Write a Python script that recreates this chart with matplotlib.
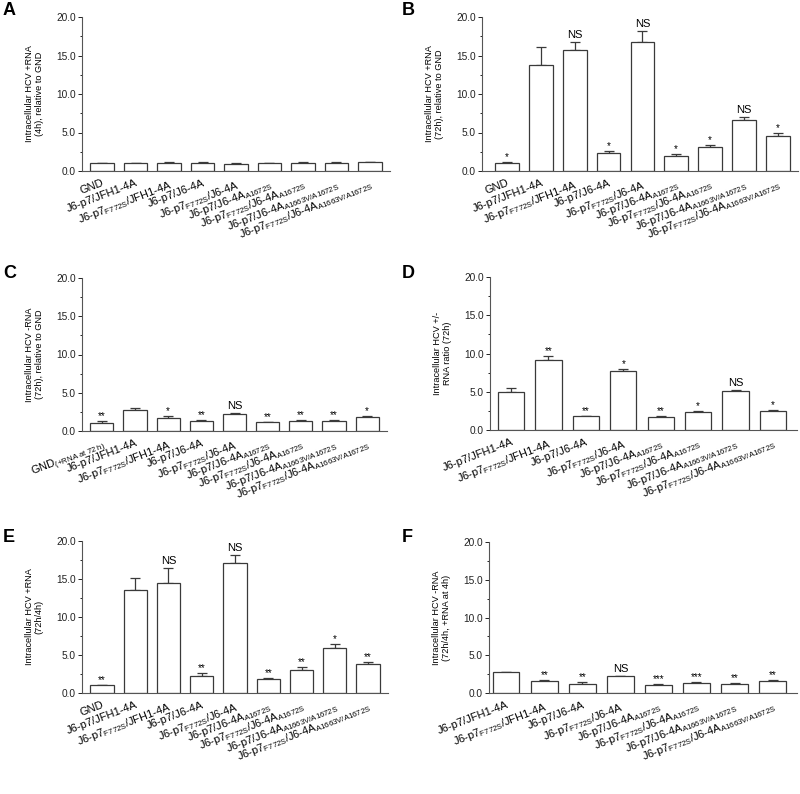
import numpy as np
import matplotlib
matplotlib.use("Agg")
import matplotlib.pyplot as plt
from matplotlib.ticker import MultipleLocator, FormatStrFormatter

plt.rcParams["font.family"] = ["Liberation Sans", "DejaVu Sans"]
plt.rcParams["mathtext.fontset"] = "custom"
plt.rcParams["mathtext.rm"] = "Liberation Sans"
plt.rcParams["mathtext.it"] = "Liberation Sans:italic"
plt.rcParams["mathtext.bf"] = "Liberation Sans:bold"

# x-axis labels
SUB_F = r"$_{\mathrm{F772S}}$"
SUB_A = r"$_{\mathrm{A1672S}}$"
SUB_VA = r"$_{\mathrm{A1663V/A1672S}}$"
mutants = [
    "J6-p7/JFH1-4A",
    "J6-p7" + SUB_F + "/JFH1-4A",
    "J6-p7/J6-4A",
    "J6-p7" + SUB_F + "/J6-4A",
    "J6-p7/J6-4A" + SUB_A,
    "J6-p7" + SUB_F + "/J6-4A" + SUB_A,
    "J6-p7/J6-4A" + SUB_VA,
    "J6-p7" + SUB_F + "/J6-4A" + SUB_VA,
]
labels_gnd = ["GND"] + mutants
labels_gnd_c = ["GND" + r"$_{\mathrm{(+RNA\ at\ 72\ h)}}$"] + mutants

# panel A: +RNA 4h
a_vals = [1.0, 1.0, 1.1, 1.05, 0.97, 1.05, 1.08, 1.08, 1.18]
a_err = [0.05, 0.04, 0.04, 0.07, 0.03, 0.05, 0.06, 0.04, 0.05]
a_sig = [""] * 9

# panel B: +RNA 72h
b_vals = [1.04, 13.8, 15.75, 2.3, 16.75, 2.0, 3.15, 6.6, 4.55]
b_err = [0.13, 2.3, 1.05, 0.3, 1.45, 0.2, 0.25, 0.45, 0.4]
b_sig = ["*", "", "NS", "*", "NS", "*", "*", "NS", "*"]

# panel C: -RNA 72h
c_vals = [1.1, 2.8, 1.75, 1.31, 2.19, 1.14, 1.31, 1.31, 1.84]
c_err = [0.17, 0.26, 0.18, 0.18, 0.17, 0.08, 0.13, 0.13, 0.16]
c_sig = ["**", "", "*", "**", "NS", "**", "**", "**", "*"]

# panel D: +/- ratio
d_vals = [4.98, 9.13, 1.79, 7.73, 1.75, 2.36, 5.07, 2.49]
d_err = [0.57, 0.52, 0.04, 0.22, 0.08, 0.07, 0.13, 0.09]
d_sig = ["", "**", "**", "*", "**", "*", "NS", "*"]

# panel E: +RNA 72h/4h
e_vals = [1.0, 13.6, 14.5, 2.27, 17.1, 1.83, 3.0, 5.94, 3.8]
e_err = [0.09, 1.47, 1.9, 0.31, 1.1, 0.14, 0.4, 0.56, 0.26]
e_sig = ["**", "", "NS", "**", "NS", "**", "**", "*", "**"]

# panel F: -RNA 72h/4h
f_vals = [2.77, 1.58, 1.23, 2.2, 1.1, 1.32, 1.19, 1.54]
f_err = [0.03, 0.18, 0.17, 0.09, 0.09, 0.13, 0.13, 0.13]
f_sig = ["", "**", "**", "NS", "***", "***", "**", "**"]

ylabels = {
    "A": "Intracellular HCV +RNA\n(4h), relative to GND",
    "B": "Intracellular HCV +RNA\n(72h), relative to GND",
    "C": "Intracellular HCV -RNA\n(72h), relative to GND",
    "D": "Intracellular HCV +/-\nRNA ratio (72h)",
    "E": "Intracellular HCV +RNA\n(72h/4h)",
    "F": "Intracellular HCV -RNA\n(72h/4h, +RNA at 4h)",
}

W, H = 800, 794
EDGE = "#3a3a3a"


def box(l, r, t, b):
    return [l / W, 1 - b / H, (r - l) / W, (b - t) / H]


def panel(fig, rect, letter, letter_xy, vals, err, sig, labels, xlim):
    ax = fig.add_axes(rect)
    x = np.arange(len(vals))
    ax.bar(x, vals, width=0.7, color="white", edgecolor=EDGE,
           linewidth=0.9, zorder=2)
    ax.errorbar(x, vals, yerr=[np.zeros(len(err)), err], fmt="none",
                ecolor=EDGE, elinewidth=0.9, capsize=3.5,
                capthick=0.9, zorder=1)
    for xi, v, e, s in zip(x, vals, err, sig):
        if not s:
            continue
        if s == "NS":
            ax.annotate(s, (xi, v + e), xytext=(0, 1.5), textcoords="offset points",
                        ha="center", va="bottom", fontsize=8)
        else:
            ax.annotate(s, (xi, v + e), xytext=(0, 0), textcoords="offset points",
                        ha="center", va="bottom", fontsize=7)
    ax.set_ylim(0, 20)
    ax.set_xlim(*xlim)
    ax.yaxis.set_major_locator(MultipleLocator(5))
    ax.yaxis.set_minor_locator(MultipleLocator(2.5))
    ax.yaxis.set_major_formatter(FormatStrFormatter("%.1f"))
    ax.tick_params(axis="y", labelsize=7.3, length=3, width=0.7, pad=1.5,
                   colors="#222222")
    ax.tick_params(axis="y", which="minor", length=1.8, width=0.6)
    ax.set_xticks(x)
    ax.set_xticklabels(labels, rotation=21, ha="right",
                       rotation_mode="anchor", fontsize=8)
    ax.tick_params(axis="x", length=0, pad=5)
    for side in ["top", "right"]:
        ax.spines[side].set_visible(False)
    for side in ["left", "bottom"]:
        ax.spines[side].set_linewidth(0.8)
        ax.spines[side].set_color("#555555")
    ax.set_ylabel(ylabels[letter], fontsize=6.6, labelpad=9, linespacing=1.15)
    fig.text(letter_xy[0] / W, 1 - letter_xy[1] / H, letter, fontsize=13,
             fontweight="bold", va="top", ha="left")
    return ax


fig = plt.figure(figsize=(W / 100, H / 100), dpi=100)

panel(fig, box(82, 390, 17, 171), "A", (3, 2), a_vals, a_err, a_sig,
      labels_gnd, (-0.6, 8.6))
panel(fig, box(482, 798, 17, 171), "B", (402, 2), b_vals, b_err, b_sig,
      labels_gnd, (-0.74, 8.6))
panel(fig, box(82, 387, 278, 431), "C", (3, 265), c_vals, c_err, c_sig,
      labels_gnd_c, (-0.6, 8.6))
panel(fig, box(490, 797, 277, 430), "D", (402, 265), d_vals, d_err, d_sig,
      mutants, (-0.56, 7.64))
panel(fig, box(82, 388, 541, 693), "E", (3, 529), e_vals, e_err, e_sig,
      labels_gnd, (-0.6, 8.6))
panel(fig, box(489, 797, 542, 693), "F", (402, 529), f_vals, f_err, f_sig,
      mutants, (-0.45, 7.64))

fig.savefig("out.png", dpi=100)
